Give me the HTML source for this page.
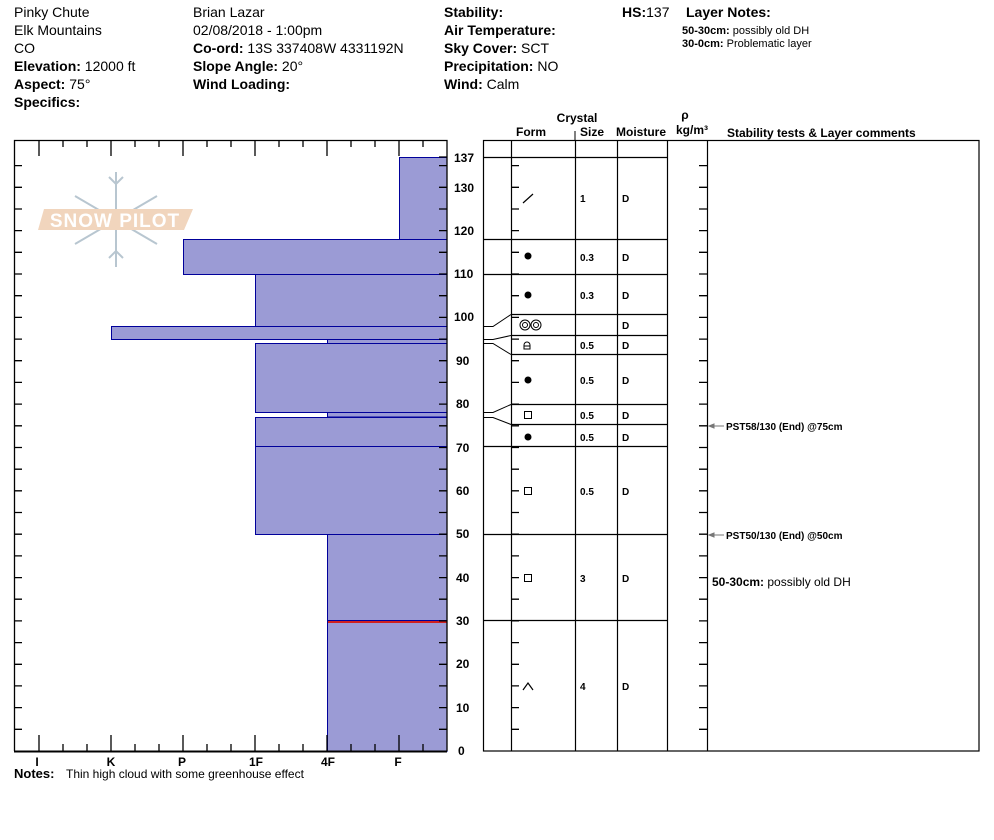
<!DOCTYPE html>
<html><head><meta charset="utf-8"><style>
body{margin:0;background:#fff;}
svg{display:block;font-family:"Liberation Sans",Arial,sans-serif;}
.h{font-size:14px;}
.b{font-weight:bold;}
.t{font-size:12px;font-weight:bold;}
.s{font-size:10px;font-weight:bold;}
</style></head><body>
<svg width="994" height="840" viewBox="0 0 994 840" xmlns="http://www.w3.org/2000/svg">
<g class="h" fill="#000">
<text x="14" y="17">Pinky Chute</text>
<text x="14" y="35">Elk Mountains</text>
<text x="14" y="53">CO</text>
<text x="14" y="71"><tspan class="b">Elevation:</tspan> 12000 ft</text>
<text x="14" y="89"><tspan class="b">Aspect:</tspan> 75°</text>
<text x="14" y="107" class="b">Specifics:</text>
<text x="193" y="17">Brian Lazar</text>
<text x="193" y="35">02/08/2018 - 1:00pm</text>
<text x="193" y="53"><tspan class="b">Co-ord:</tspan> 13S 337408W 4331192N</text>
<text x="193" y="71"><tspan class="b">Slope Angle:</tspan> 20°</text>
<text x="193" y="89" class="b">Wind Loading:</text>
<text x="444" y="17" class="b">Stability:</text>
<text x="444" y="35" class="b">Air Temperature:</text>
<text x="444" y="53"><tspan class="b">Sky Cover:</tspan> SCT</text>
<text x="444" y="71"><tspan class="b">Precipitation:</tspan> NO</text>
<text x="444" y="89"><tspan class="b">Wind:</tspan>  Calm</text>
<text x="622" y="17"><tspan class="b">HS:</tspan>137</text>
<text x="686" y="17" class="b">Layer Notes:</text>
</g>
<text x="682" y="34" font-size="11"><tspan font-weight="bold">50-30cm:</tspan> possibly old DH</text>
<text x="682" y="47" font-size="11"><tspan font-weight="bold">30-0cm:</tspan> Problematic layer</text>

<!-- logo -->
<g stroke="#b8c6d0" stroke-width="2" fill="none">
<line x1="116" y1="172" x2="116" y2="267"/>
<line x1="75" y1="196" x2="157" y2="244"/>
<line x1="75" y1="244" x2="157" y2="196"/>
<polyline points="109,177 116,184 123,177"/><polyline points="109,258 116,251 123,258"/>
</g>
<polygon points="44,209 193,209 184,230 38,230" fill="#f1d5bd"/>
<text x="115" y="227" text-anchor="middle" font-size="19" font-weight="bold" fill="#fff" letter-spacing="1">SNOW PILOT</text>

<!-- hardness bars -->
<g fill="#9b9bd5" stroke="#00009a" stroke-width="1">
<rect x="399.5" y="157.5" width="47.5" height="82"/>
<rect x="183.5" y="239.5" width="263.5" height="35"/>
<rect x="255.5" y="274.5" width="191.5" height="52"/>
<rect x="111.5" y="326.5" width="335.5" height="13"/>
<rect x="327.5" y="339.5" width="119.5" height="4"/>
<rect x="255.5" y="343.5" width="191.5" height="69"/>
<rect x="327.5" y="412.5" width="119.5" height="4.5"/>
<rect x="255.5" y="417.5" width="191.5" height="29"/>
<rect x="255.5" y="446.5" width="191.5" height="88"/>
<rect x="327.5" y="534.5" width="119.5" height="86"/>
<rect x="327.5" y="621.5" width="119.5" height="130"/>
</g>
<line x1="328" y1="622" x2="447" y2="622" stroke="#d02020" stroke-width="2"/>

<!-- left frame -->
<g stroke="#000" stroke-width="1.3" fill="none">
<polyline points="14.5,751 14.5,140.5 447,140.5 447,751"/>
<line x1="14" y1="751.5" x2="447" y2="751.5" stroke-width="2"/>
</g>
<g stroke="#000" stroke-width="1.3">
<!-- top/bottom ticks -->
<path d="M39 140v16M111 140v16M183 140v16M255 140v16M327 140v16M399 140v16
M63 140v7M87 140v7M135 140v7M159 140v7M207 140v7M231 140v7M279 140v7M303 140v7M351 140v7M375 140v7M423 140v7
M39 751v-16M111 751v-16M183 751v-16M255 751v-16M327 751v-16M399 751v-16
M63 751v-7M87 751v-7M135 751v-7M159 751v-7M207 751v-7M231 751v-7M279 751v-7M303 751v-7M351 751v-7M375 751v-7M423 751v-7"/>
<path d="M14 729.3h8M14 707.6h8M14 685.9h8M14 664.3h8M14 642.6h8M14 620.9h8M14 599.2h8M14 577.6h8M14 555.9h8M14 534.2h8M14 512.5h8M14 490.8h8M14 469.2h8M14 447.5h8M14 425.8h8M14 404.1h8M14 382.4h8M14 360.7h8M14 339.1h8M14 317.4h8M14 295.7h8M14 274h8M14 252.3h8M14 230.6h8M14 209h8M14 187.3h8M14 165.6h8
M439 729.3h8M439 707.6h8M439 685.9h8M439 664.3h8M439 642.6h8M439 620.9h8M439 599.2h8M439 577.6h8M439 555.9h8M439 534.2h8M439 512.5h8M439 490.8h8M439 469.2h8M439 447.5h8M439 425.8h8M439 404.1h8M439 382.4h8M439 360.7h8M439 339.1h8M439 317.4h8M439 295.7h8M439 274h8M439 252.3h8M439 230.6h8M439 209h8M439 187.3h8M439 165.6h8M439 157h8"/>
<path d="M511 729.3h8M511 707.6h8M511 685.9h8M511 664.3h8M511 642.6h8M511 620.9h8M511 599.2h8M511 577.6h8M511 555.9h8M511 534.2h8M511 512.5h8M511 490.8h8M511 469.2h8M511 447.5h8M511 425.8h8M511 404.1h8M511 382.4h8M511 360.7h8M511 339.1h8M511 317.4h8M511 295.7h8M511 274h8M511 252.3h8M511 230.6h8M511 209h8M511 187.3h8M511 165.6h8
M699 729.3h8M699 707.6h8M699 685.9h8M699 664.3h8M699 642.6h8M699 620.9h8M699 599.2h8M699 577.6h8M699 555.9h8M699 534.2h8M699 512.5h8M699 490.8h8M699 469.2h8M699 447.5h8M699 425.8h8M699 404.1h8M699 382.4h8M699 360.7h8M699 339.1h8M699 317.4h8M699 295.7h8M699 274h8M699 252.3h8M699 230.6h8M699 209h8M699 187.3h8M699 165.6h8"/>
</g>
<g class="t" text-anchor="middle">
<text x="37" y="766">I</text><text x="111" y="766">K</text><text x="182" y="766">P</text>
<text x="256" y="766">1F</text><text x="328" y="766">4F</text><text x="398" y="766">F</text>
</g>
<g class="t">
<text x="454" y="162">137</text><text x="454" y="192">130</text><text x="454" y="235">120</text>
<text x="454" y="278">110</text><text x="454" y="321">100</text><text x="456" y="365">90</text>
<text x="456" y="408">80</text><text x="456" y="452">70</text><text x="456" y="495">60</text>
<text x="456" y="538">50</text><text x="456" y="582">40</text><text x="456" y="625">30</text>
<text x="456" y="668">20</text><text x="456" y="712">10</text><text x="458" y="755">0</text>
</g>
<text x="14" y="778" font-size="13" font-weight="bold">Notes:</text>
<text x="66" y="778" font-size="12">Thin high cloud with some greenhouse effect</text>

<!-- table header -->
<g class="t">
<text x="577" y="122" text-anchor="middle">Crystal</text>
<text x="516" y="136">Form</text>
<text x="580" y="136">Size</text>
<text x="616" y="136">Moisture</text>
<text x="685" y="119" text-anchor="middle">ρ</text>
<text x="676" y="134">kg/m³</text>
<text x="727" y="137">Stability tests &amp; Layer comments</text>
</g>
<line x1="575" y1="131" x2="575" y2="140" stroke="#000"/>

<!-- table -->
<g stroke="#000" stroke-width="1.2" fill="none">
<rect x="483.5" y="140.5" width="495.5" height="610.5"/>
<path d="M511.5 140v611M575.5 140v611M617.5 140v611M667.5 140v611M707.5 140v611"/>
<path d="M483 157.5h184M483 239.5h184M483 274.5h184M511 314.5h156M511 335.5h156M511 354.5h156M511 404.5h156M511 424.5h156M483 446.5h184M483 534.5h184M483 620.5h184"/>
<path d="M483 326.5h10L511 314.5M483 339.5h10L511 335.5M483 343.5h10L511 354.5M483 412.5h10L511 404.5M483 417.5h10L511 424.5" stroke-width="1"/>
</g>
<!-- symbols -->
<g fill="#000" stroke="#000">
<line x1="523" y1="203" x2="533" y2="194" stroke-width="1.2"/>
<circle cx="528" cy="256" r="3.5" stroke="none"/>
<circle cx="528" cy="295" r="3.5" stroke="none"/>
<g fill="none" stroke-width="1"><circle cx="525" cy="325" r="5"/><circle cx="525" cy="325" r="2.5"/><circle cx="536" cy="325" r="5"/><circle cx="536" cy="325" r="2.5"/></g>
<path d="M524 349v-4a3 3 0 0 1 6 0v4zM524 346h6" fill="none" stroke-width="1"/>
<circle cx="528" cy="380" r="3.5" stroke="none"/>
<rect x="524.5" y="411.5" width="7" height="7" fill="none"/>
<circle cx="528" cy="437" r="3.5" stroke="none"/>
<rect x="524.5" y="487.5" width="7" height="7" fill="none"/>
<rect x="524.5" y="574.5" width="7" height="7" fill="none"/>
<polyline points="523,690 528,683 533,690" fill="none" stroke-width="1.2"/>
</g>
<g class="s">
<text x="580" y="202">1</text><text x="622" y="202">D</text>
<text x="580" y="261">0.3</text><text x="622" y="261">D</text>
<text x="580" y="299">0.3</text><text x="622" y="299">D</text>
<text x="622" y="329">D</text>
<text x="580" y="349">0.5</text><text x="622" y="349">D</text>
<text x="580" y="384">0.5</text><text x="622" y="384">D</text>
<text x="580" y="419">0.5</text><text x="622" y="419">D</text>
<text x="580" y="441">0.5</text><text x="622" y="441">D</text>
<text x="580" y="495">0.5</text><text x="622" y="495">D</text>
<text x="580" y="582">3</text><text x="622" y="582">D</text>
<text x="580" y="690">4</text><text x="622" y="690">D</text>
<text x="726" y="430">PST58/130 (End) @75cm</text>
<text x="726" y="539">PST50/130 (End) @50cm</text>
</g>
<g stroke="#777" fill="#777">
<line x1="709" y1="426" x2="724" y2="426"/><polygon points="709,426 714,424 714,428"/>
<line x1="709" y1="535" x2="724" y2="535"/><polygon points="709,535 714,533 714,537"/>
</g>
<text x="712" y="586" font-size="12"><tspan font-weight="bold">50-30cm:</tspan> possibly old DH</text>
</svg>
</body></html>
